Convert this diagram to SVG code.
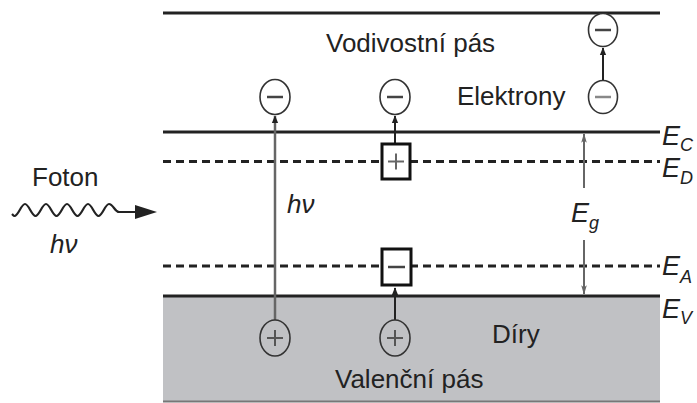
<svg xmlns="http://www.w3.org/2000/svg" width="697" height="403" viewBox="0 0 697 403">
<defs>
<style>
.t{font-family:"Liberation Sans",Arial,sans-serif;font-size:26px;fill:#222}
.i{font-family:"Liberation Sans",Arial,sans-serif;font-style:italic;fill:#222}
.lvl{stroke:#222;stroke-width:3;fill:none}
.dash{stroke:#222;stroke-width:3;stroke-dasharray:8 5;fill:none}
.ec{fill:#fff;stroke:#333;stroke-width:1.6}
.hc{fill:none;stroke:#333;stroke-width:1.6}
.sg{stroke:#444;stroke-width:2.5;fill:none}
.sq{fill:#fff;stroke:#111;stroke-width:3}
.con{stroke:#222;stroke-width:2;fill:none}
</style>
<marker id="ah" viewBox="0 0 10 10" refX="9" refY="5" markerWidth="8" markerHeight="8" markerUnits="userSpaceOnUse" orient="auto">
<path d="M0,1 L10,5 L0,9 Z" fill="#222"/>
</marker>
<marker id="ag" viewBox="0 0 12 10" refX="11" refY="5" markerWidth="12" markerHeight="8" markerUnits="userSpaceOnUse" orient="auto">
<path d="M0,1.5 L12,5 L0,8.5 L3,5 Z" fill="#666"/>
</marker>
</defs>
<rect width="697" height="403" fill="#fff"/>

<g id="valence-band">
<rect x="163" y="296" width="497" height="106" fill="#c0c1c4"/>
<line x1="163" y1="401.5" x2="660" y2="401.5" stroke="#777" stroke-width="2"/>
<text class="t" x="335" y="388">Valenční pás</text>
<text class="t" x="492" y="343">Díry</text>
</g>

<g id="levels">
<line class="lvl" x1="163" y1="13" x2="660" y2="13"/>
<line class="lvl" x1="163" y1="132" x2="660" y2="132"/>
<line class="dash" x1="163" y1="161.5" x2="660" y2="161.5"/>
<line class="dash" x1="163" y1="266" x2="660" y2="266"/>
<line class="lvl" x1="163" y1="296" x2="660" y2="296"/>
</g>

<g id="conduction-band">
<text class="t" x="326" y="52">Vodivostní pás</text>
<text class="t" x="457" y="105">Elektrony</text>
</g>

<g id="level-labels">
<text class="i" x="662" y="145" font-size="27">E<tspan font-size="18" dy="6">C</tspan></text>
<text class="i" x="662" y="177" font-size="27">E<tspan font-size="18" dy="7">D</tspan></text>
<text class="i" x="662" y="275" font-size="27">E<tspan font-size="18" dy="8">A</tspan></text>
<text class="i" x="662" y="318" font-size="27">E<tspan font-size="18" dy="6">V</tspan></text>
</g>

<g id="gap">
<line x1="584" y1="188" x2="584" y2="134" stroke="#666" stroke-width="2" marker-end="url(#ag)"/>
<line x1="584" y1="240" x2="584" y2="294" stroke="#666" stroke-width="2" marker-end="url(#ag)"/>
<text class="i" x="571" y="222" font-size="27">E<tspan font-size="18" dy="7">g</tspan></text>
</g>

<g id="photon">
<text class="t" x="32" y="186">Foton</text>
<text class="i" x="50" y="253" font-size="26">hν</text>
<path d="M12,214 C13,215 13.5,216 14.5,216 C18.3,216 21.2,204 25,204 C28.8,204 31.7,216 35.5,216 C39.3,216 42.2,204 46,204 C49.8,204 52.7,216 56.5,216 C60.3,216 63.2,204 67,204 C70.8,204 73.7,216 77.5,216 C81.3,216 84.2,204 88,204 C91.8,204 94.7,216 98.5,216 C102.3,216 105.2,204 109,204 C113,204 115,212 119,212 L137,212" stroke="#222" stroke-width="2.2" fill="none"/>
<path d="M135,205 L157,212 L135,219 Z" fill="#222"/>
</g>

<g id="connectors">
<line x1="275" y1="320" x2="275" y2="116" stroke="#666" stroke-width="2.5" marker-end="url(#ah)"/>
<line class="con" x1="395" y1="144" x2="395" y2="116" marker-end="url(#ah)"/>
<line class="con" x1="395" y1="320" x2="395" y2="288" marker-end="url(#ah)"/>
<line class="con" x1="603" y1="80" x2="603" y2="48" marker-end="url(#ah)"/>
<text class="i" x="287" y="213" font-size="26">hν</text>
</g>

<g id="electron-1">
<ellipse class="ec" cx="275" cy="97" rx="15" ry="17.5"/>
<line class="sg" x1="267" y1="97" x2="283" y2="97"/>
</g>
<g id="electron-2">
<ellipse class="ec" cx="395" cy="97" rx="15" ry="17.5"/>
<line class="sg" x1="387" y1="97" x2="403" y2="97"/>
</g>
<g id="electron-3">
<ellipse class="ec" cx="603" cy="30" rx="14.5" ry="16.5"/>
<line class="sg" x1="595" y1="30" x2="611" y2="30"/>
</g>
<g id="electron-4">
<ellipse class="ec" cx="603" cy="97" rx="14.5" ry="16.5"/>
<line x1="595" y1="97" x2="611" y2="97" stroke="#888" stroke-width="2.5"/>
</g>

<g id="donor">
<rect class="sq" x="382" y="144" width="28" height="35"/>
<line x1="388" y1="161.5" x2="404" y2="161.5" stroke="#666" stroke-width="2"/>
<line x1="396" y1="153.5" x2="396" y2="169.5" stroke="#666" stroke-width="2"/>
</g>
<g id="acceptor">
<rect class="sq" x="382" y="249" width="29" height="36"/>
<line x1="388" y1="267" x2="405" y2="267" stroke="#444" stroke-width="2.5"/>
</g>

<g id="hole-1">
<ellipse class="hc" cx="275" cy="338" rx="15" ry="18"/>
<line x1="267" y1="338" x2="283" y2="338" stroke="#555" stroke-width="2"/>
<line x1="275" y1="330" x2="275" y2="346" stroke="#555" stroke-width="2"/>
</g>
<g id="hole-2">
<ellipse class="hc" cx="395" cy="338" rx="15" ry="18"/>
<line x1="387" y1="338" x2="403" y2="338" stroke="#555" stroke-width="2"/>
<line x1="395" y1="330" x2="395" y2="346" stroke="#555" stroke-width="2"/>
</g>
</svg>
